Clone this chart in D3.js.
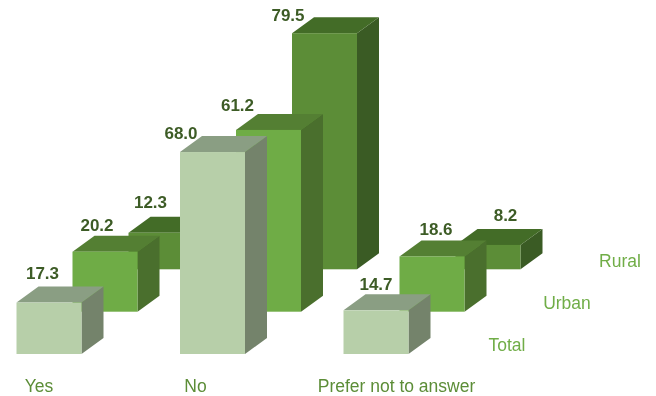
<!DOCTYPE html>
<html><head><meta charset="utf-8">
<script src="https://cdn.jsdelivr.net/npm/d3@7/dist/d3.min.js"></script>
<style>html,body{margin:0;padding:0;background:#fff}svg{display:block;filter:blur(0.4px)}text{font-family:"Liberation Sans",Arial,sans-serif}</style>
</head><body><div id="c"></div>
<script>
const categories = ["Yes", "No", "Prefer not to answer"];
const seriesNames = ["Rural", "Urban", "Total"];
const rural = [12.3, 79.5, 8.2];
const urban = [20.2, 61.2, 18.6];
const total = [17.3, 68.0, 14.7];

// layout only
const W = 656, H = 396, barW = 65, dx = 22, dy = 16;
const palette = {
  Rural: {front:"#5c8d37", top:"#436c27", side:"#3a5b24"},
  Urban: {front:"#6fac46", top:"#547f33", side:"#4a6f2d"},
  Total: {front:"#b7cfa9", top:"#8a9e83", side:"#74836b"}
};
const rows = {Rural:{values:rural, off:112, base:269.3}, Urban:{values:urban, off:56, base:311.7}, Total:{values:total, off:0, base:354}};
const labelOffset = {
  Rural:[[22,-24.5],[-4,-12],[50,-24]],
  Urban:[[24.5,-21],[1.5,-18.5],[36.5,-21]],
  Total:[[26,-24],[1,-13],[32.5,-20]]
};
const legendPos = {Rural:[620,267], Urban:[567,309], Total:[507,351]};
const catX = d3.scalePoint().domain(categories).range([16.5,343.5]);
const h = d3.scaleLinear().domain([0,100]).range([0,297]);

const svg = d3.select("#c").append("svg").attr("width",W).attr("height",H);

seriesNames.forEach(name=>{
  const r = rows[name], c = palette[name];
  const g = svg.append("g").attr("class","row");
  categories.forEach((cat,i)=>{
    const x = catX(cat)+r.off, y1 = r.base, y0 = y1-h(r.values[i]), x1 = x+barW;
    const b = g.append("g");
    b.append("path").attr("fill",c.side).attr("d",d3.line()([[x1,y0],[x1+dx,y0-dy],[x1+dx,y1-dy],[x1,y1]])+"Z");
    b.append("path").attr("fill",c.top).attr("d",d3.line()([[x,y0],[x+dx,y0-dy],[x1+dx,y0-dy],[x1,y0]])+"Z");
    b.append("rect").attr("x",x).attr("y",y0).attr("width",barW).attr("height",y1-y0).attr("fill",c.front);
  });
});
seriesNames.forEach(name=>{
  const r = rows[name];
  categories.forEach((cat,i)=>{
    const x = catX(cat)+r.off, y0 = r.base-h(r.values[i]), o = labelOffset[name][i];
    svg.append("text").attr("x",x+o[0]).attr("y",y0+o[1]).attr("text-anchor","middle")
      .attr("font-size",17).attr("font-weight","bold").attr("fill","#3d5c26").text(r.values[i].toFixed(1));
  });
  svg.append("text").attr("x",legendPos[name][0]).attr("y",legendPos[name][1]).attr("text-anchor","middle")
    .attr("font-size",17.5).attr("fill","#70ad47").text(name);
});
const catLabelX = {"Yes":39,"No":195.5,"Prefer not to answer":396.5};
categories.forEach(cat=>{
  svg.append("text").attr("x",catLabelX[cat]).attr("y",391.7).attr("text-anchor","middle")
    .attr("font-size",17.5).attr("fill","#5c8d37").text(cat);
});
</script></body></html>
